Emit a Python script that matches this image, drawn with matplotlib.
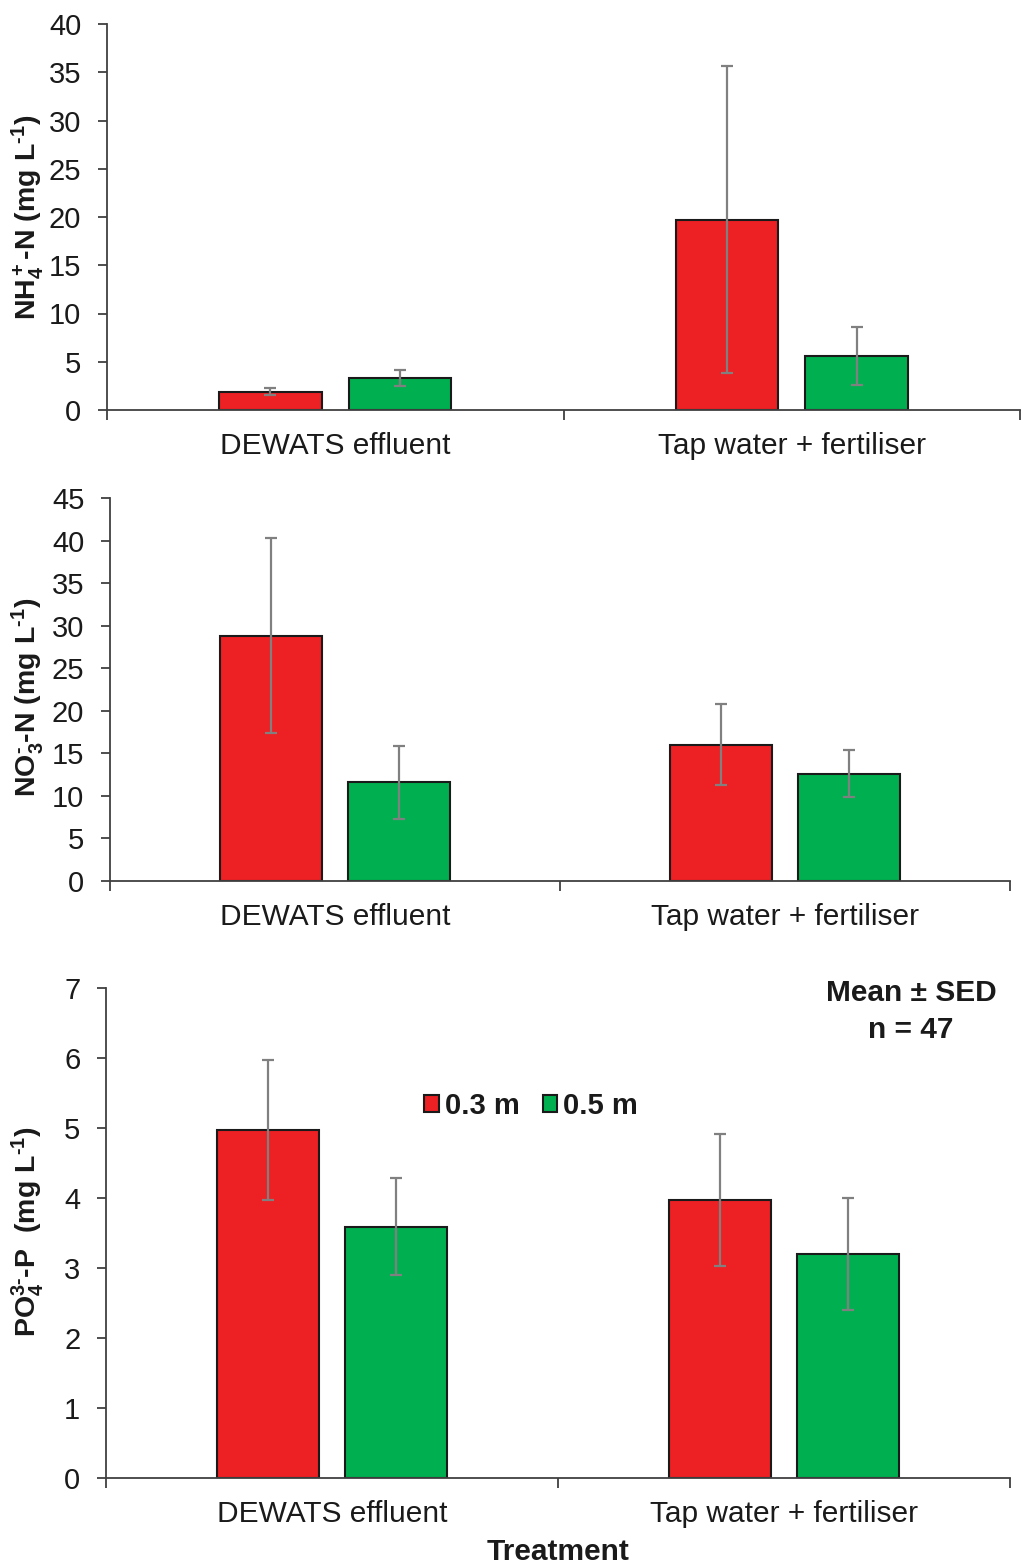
import matplotlib
matplotlib.use("Agg")
import matplotlib.pyplot as plt
import numpy as np

plt.rcParams['font.family'] = ['Liberation Sans', 'DejaVu Sans']
plt.rcParams['mathtext.fontset'] = 'custom'
plt.rcParams['mathtext.rm'] = 'Liberation Sans:bold'
plt.rcParams['mathtext.it'] = 'Liberation Sans:bold'
plt.rcParams['mathtext.bf'] = 'Liberation Sans:bold'

# Data
treatments = ["DEWATS effluent", "Tap water + fertiliser"]
depths = ["0.3 m", "0.5 m"]

nh4_03 = [1.9, 19.7]
nh4_03_err = [0.35, 15.9]
nh4_05 = [3.3, 5.6]
nh4_05_err = [0.8, 3.05]

no3_03 = [28.8, 16.0]
no3_03_err = [11.45, 4.75]
no3_05 = [11.6, 12.6]
no3_05_err = [4.3, 2.75]

po4_03 = [4.97, 3.97]
po4_03_err = [1.0, 0.94]
po4_05 = [3.59, 3.2]
po4_05_err = [0.69, 0.8]

HY = "\u2010"  # short hyphen for the charge signs
ylabels = [r"NH$_4^+$-N (mg L$^{" + HY + "1}$)",
           r"NO$_3^{" + HY + "}$-N (mg L$^{" + HY + "1}$)",
           r"PO$_4^{3" + HY + "}$-P  (mg L$^{" + HY + "1}$)"]
yticks = [np.arange(0, 41, 5), np.arange(0, 46, 5), np.arange(0, 8, 1)]

RED = "#ED2024"
GREEN = "#00B050"
AX_COL = "#404040"
ERR_COL = "#808080"
TXT = "#1a1a1a"

W, H = 1021, 1567
fig = plt.figure(figsize=(W / 100, H / 100), dpi=100)

def px_axes(left, right, top, bottom):
    return fig.add_axes([left / W, 1 - bottom / H, (right - left) / W, (bottom - top) / H])

axes = [px_axes(107, 1020, 24, 410),
        px_axes(110, 1010, 498, 881),
        px_axes(106, 1010, 988, 1478)]

series = [(nh4_03, nh4_03_err, nh4_05, nh4_05_err),
          (no3_03, no3_03_err, no3_05, no3_05_err),
          (po4_03, po4_03_err, po4_05, po4_05_err)]

label_y = [217, 697, 1232]
x = np.arange(len(treatments))
bw = 0.225
off = 0.142

for i, ax in enumerate(axes):
    a, ae, b, be = series[i]
    ax.bar(x - off, a, bw, color=RED, edgecolor=TXT, linewidth=1.5, label=depths[0], zorder=2)
    ax.bar(x + off, b, bw, color=GREEN, edgecolor=TXT, linewidth=1.5, label=depths[1], zorder=2)
    ax.errorbar(x - off, a, yerr=ae, fmt='none', ecolor=ERR_COL, elinewidth=1.6, capsize=4.3, capthick=1.6, zorder=3)
    ax.errorbar(x + off, b, yerr=be, fmt='none', ecolor=ERR_COL, elinewidth=1.6, capsize=4.3, capthick=1.6, zorder=3)

    ax.set_xlim(-0.5, 1.5)
    yt = yticks[i]
    ax.set_ylim(0, yt[-1])
    ax.set_yticks(yt)
    ax.set_yticklabels([str(v) for v in yt])
    ax.set_xticks(x)
    ax.set_xticklabels(treatments)
    ax.set_xticks([-0.5, 0.5, 1.5], minor=True)
    ax.tick_params(axis='x', which='major', length=0, pad=16, labelsize=21.5, colors=TXT)
    ax.tick_params(axis='x', which='minor', length=7, width=1.3, color=AX_COL)
    ax.tick_params(axis='y', which='major', length=6.5, width=1.3, color=AX_COL, pad=12,
                   labelsize=21, labelcolor=TXT)
    for s in ['top', 'right']:
        ax.spines[s].set_visible(False)
    for s in ['left', 'bottom']:
        ax.spines[s].set_color(AX_COL)
        ax.spines[s].set_linewidth(1.3)

    ax.set_ylabel(ylabels[i], fontsize=20.5, fontweight='bold', color=TXT, va='center')
    ax.yaxis.set_label_coords(28 / W, 1 - label_y[i] / H, transform=fig.transFigure)

ax3 = axes[2]
leg = ax3.legend(loc='center', bbox_to_anchor=((531 - 106) / 904, (1478 - 1106) / 490),
                 ncol=2, frameon=False, handlelength=0.5, handleheight=0.5, handletextpad=0.2,
                 columnspacing=0.8, prop={'weight': 'bold', 'size': 21})
for t in leg.get_texts():
    t.set_color(TXT)

fig.text(911 / W, 1 - 993 / H, "Mean ± SED", ha='center', va='center', fontsize=21.5,
         fontweight='bold', color=TXT)
fig.text(911 / W, 1 - 1030 / H, "n = 47", ha='center', va='center', fontsize=21.5,
         fontweight='bold', color=TXT)
fig.text(558 / W, 1 - 1552 / H, "Treatment", ha='center', va='center', fontsize=21.5,
         fontweight='bold', color=TXT)

fig.savefig("out.png", dpi=100, facecolor='white')
